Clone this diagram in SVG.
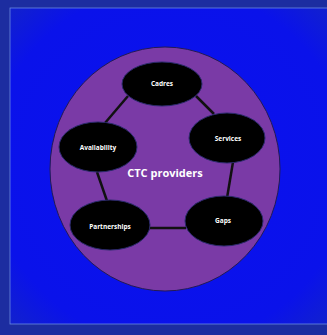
<svg xmlns="http://www.w3.org/2000/svg" width="327" height="335" viewBox="0 0 327 335">
<defs>
<radialGradient id="bg" cx="0.5" cy="0.5" r="0.75">
<stop offset="0" stop-color="#0a10f0"/>
<stop offset="0.75" stop-color="#0a12ea"/>
<stop offset="1" stop-color="#1426c4"/>
</radialGradient>
<style>
.node ellipse{fill:#000;stroke:#2a2a6a;stroke-width:1}
.node text{fill:#fff;font-family:"Open Sans","Liberation Sans",sans-serif;font-weight:bold;font-size:6.5px;text-anchor:middle;dominant-baseline:central}
.conn line{stroke:#111;stroke-width:2.5}
</style>
</defs>
<rect x="0" y="0" width="327" height="335" fill="#1c2da0"/>
<rect x="10" y="8" width="320" height="316" fill="url(#bg)" stroke="#6a8ae0" stroke-width="0.8"/>
<ellipse cx="165" cy="169" rx="115" ry="122" fill="#7a3aa6" stroke="#221a55" stroke-width="1"/>
<g id="connectors" class="conn">
<line x1="196" y1="96" x2="214" y2="114"/>
<line x1="128" y1="96" x2="105" y2="123"/>
<line x1="97" y1="172" x2="107" y2="201"/>
<line x1="233" y1="162" x2="227" y2="198"/>
<line x1="149" y1="228" x2="186" y2="228"/>
</g>
<text x="165" y="172" fill="#fff" font-family="'Open Sans','Liberation Sans',sans-serif" font-weight="bold" font-size="11" text-anchor="middle" dominant-baseline="central">CTC providers</text>
<g id="cadres" class="node"><ellipse cx="162" cy="84" rx="40" ry="22"/><text x="162" y="83">Cadres</text></g>
<g id="services" class="node"><ellipse cx="227" cy="138" rx="38" ry="25"/><text x="228" y="138">Services</text></g>
<g id="availability" class="node"><ellipse cx="98" cy="147" rx="39" ry="25"/><text x="98" y="147">Availability</text></g>
<g id="partnerships" class="node"><ellipse cx="110" cy="225" rx="40" ry="25"/><text x="110" y="226">Partnerships</text></g>
<g id="gaps" class="node"><ellipse cx="224" cy="221" rx="39" ry="25"/><text x="223" y="220">Gaps</text></g>
</svg>
